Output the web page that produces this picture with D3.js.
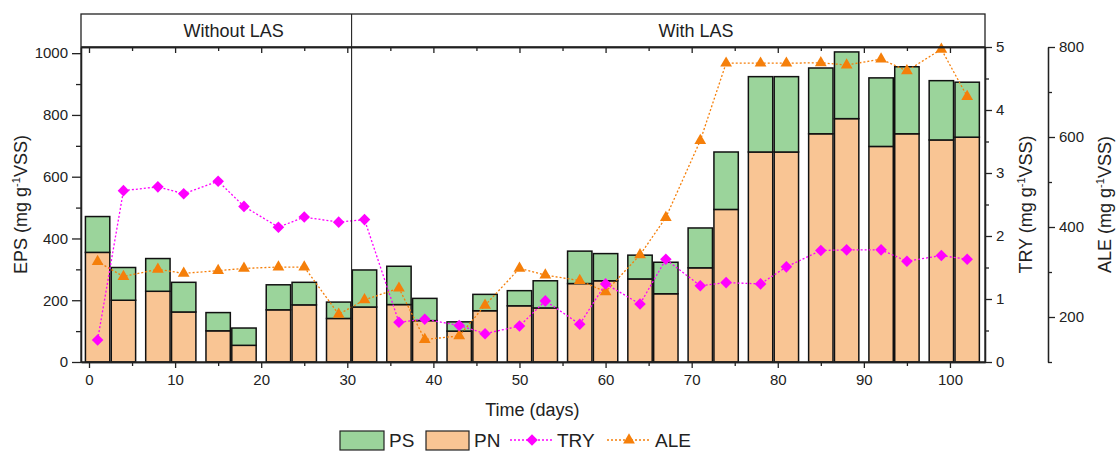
<!DOCTYPE html>
<html>
<head>
<meta charset="utf-8">
<script src="https://cdn.jsdelivr.net/npm/d3@7"></script>
<style>
  body { margin: 0; background: #fff; }
  text { font-family: "Liberation Sans", Arial, sans-serif; fill: #222; }
</style>
</head>
<body>
<div id="container" style="width:1118px;height:451px"></div>
<script>
// data
const days = [1, 4, 8, 11, 15, 18, 22, 25, 29, 32, 36, 39, 43, 46, 50, 53, 57, 60, 64, 67, 71, 74, 78, 81, 85, 88, 92, 95, 99, 102];
const pn = [355, 200, 229, 162, 101, 54, 169, 185, 141, 178, 186, 134, 100, 166, 182, 175, 254, 263, 269, 221, 305, 494, 680, 680, 739, 788, 698, 739, 719, 728];
const ps = [116, 106, 106, 96, 59, 56, 81, 73, 53, 120, 124, 72, 30, 53, 49, 88, 105, 88, 77, 102, 129, 186, 244, 244, 213, 216, 222, 217, 192, 178];
const tryVals = [0.35, 2.72, 2.78, 2.67, 2.87, 2.47, 2.14, 2.30, 2.22, 2.26, 0.63, 0.68, 0.58, 0.45, 0.57, 0.97, 0.60, 1.24, 0.92, 1.63, 1.21, 1.26, 1.24, 1.51, 1.77, 1.78, 1.78, 1.60, 1.69, 1.63];
const aleVals = [323, 290, 306, 297, 303, 308, 311, 311, 206, 238, 264, 150, 158, 226, 308, 293, 281, 256, 338, 421, 592, 764, 764, 764, 765, 760, 773, 747, 795, 690];
const phases = ["Without LAS", "With LAS"];
const legendLabels = ["PS", "PN", "TRY", "ALE"];

const colPS = "#9bd49b", colPN = "#f9c594", colTRY = "#ff00ff", colALE = "#f57f0a";

const width = 1118, height = 451;
const mLeft = 81, mRight = 985, mTop = 47, mBottom = 362, headTop = 14;

const svg = d3.select("#container").append("svg")
  .attr("width", width).attr("height", height);

const x = d3.scaleLinear().domain([-0.93, 104.07]).range([mLeft, mRight]);
const y = d3.scaleLinear().domain([0, 1020]).range([mBottom, mTop]);
const yTry = d3.scaleLinear().domain([0, 5]).range([mBottom, mTop]);
const yAle = d3.scaleLinear().domain([100, 800]).range([mBottom, mTop]);

const barW = x(2.83) - x(0);

// bars: PN bottom, PS on top
const bars = svg.append("g");
bars.selectAll(".pn").data(days).enter().append("rect")
  .attr("x", d => x(d) - barW / 2)
  .attr("y", (d, i) => y(pn[i]))
  .attr("width", barW)
  .attr("height", (d, i) => y(0) - y(pn[i]))
  .attr("fill", colPN).attr("stroke", "#111").attr("stroke-width", 1.5);
bars.selectAll(".ps").data(days).enter().append("rect")
  .attr("x", d => x(d) - barW / 2)
  .attr("y", (d, i) => y(pn[i] + ps[i]))
  .attr("width", barW)
  .attr("height", (d, i) => y(pn[i]) - y(pn[i] + ps[i]))
  .attr("fill", colPS).attr("stroke", "#111").attr("stroke-width", 1.5);

// ALE line
const aleLine = d3.line().x(d => x(d[0])).y(d => yAle(d[1]));
svg.append("path")
  .datum(days.map((d, i) => [d, aleVals[i]]))
  .attr("d", aleLine).attr("fill", "none")
  .attr("stroke", colALE).attr("stroke-width", 1.3).attr("stroke-dasharray", "2,2");
const tri = d3.symbol().type(d3.symbolTriangle).size(60);
svg.selectAll(".ale").data(days).enter().append("path")
  .attr("d", tri)
  .attr("transform", (d, i) => `translate(${x(d)},${yAle(aleVals[i])})`)
  .attr("fill", colALE);

// TRY line
const tryLine = d3.line().x(d => x(d[0])).y(d => yTry(d[1]));
svg.append("path")
  .datum(days.map((d, i) => [d, tryVals[i]]))
  .attr("d", tryLine).attr("fill", "none")
  .attr("stroke", colTRY).attr("stroke-width", 1.3).attr("stroke-dasharray", "2,2");
const dia = d3.symbol().type(d3.symbolDiamond2).size(85);
svg.selectAll(".try").data(days).enter().append("path")
  .attr("d", dia)
  .attr("transform", (d, i) => `translate(${x(d)},${yTry(tryVals[i])})`)
  .attr("fill", colTRY);

// axes
function styleAxis(g) {
  g.selectAll("path, line").attr("stroke", "#222").attr("stroke-width", 1.3);
  g.selectAll("text").style("font-size", "15px").attr("fill", "#222");
}
const fmt = d3.format("d");

// bottom
svg.append("g").attr("transform", `translate(0,${mBottom})`)
  .call(d3.axisBottom(x).tickValues(d3.range(5, 105, 10)).tickSize(4).tickFormat("").tickSizeOuter(0))
  .call(styleAxis);
svg.append("g").attr("transform", `translate(0,${mBottom})`)
  .call(d3.axisBottom(x).tickValues(d3.range(0, 101, 10)).tickSize(6).tickPadding(6).tickFormat(fmt).tickSizeOuter(0))
  .call(styleAxis);
// top (inward ticks)
svg.append("g").attr("transform", `translate(0,${mTop})`)
  .call(d3.axisBottom(x).tickValues(d3.range(5, 105, 10)).tickSize(4).tickFormat("").tickSizeOuter(0))
  .call(styleAxis);
svg.append("g").attr("transform", `translate(0,${mTop})`)
  .call(d3.axisBottom(x).tickValues(d3.range(0, 101, 10)).tickSize(6).tickFormat("").tickSizeOuter(0))
  .call(styleAxis);

// left
svg.append("g").attr("transform", `translate(${mLeft},0)`)
  .call(d3.axisLeft(y).tickValues(d3.range(100, 1001, 200)).tickSize(5).tickFormat("").tickSizeOuter(0))
  .call(styleAxis);
svg.append("g").attr("transform", `translate(${mLeft},0)`)
  .call(d3.axisLeft(y).tickValues(d3.range(0, 1001, 200)).tickSize(9).tickPadding(4).tickFormat(fmt).tickSizeOuter(0))
  .call(styleAxis);

// right TRY
svg.append("g").attr("transform", `translate(${mRight},0)`)
  .call(d3.axisRight(yTry).tickValues(d3.range(0.5, 5, 1)).tickSize(4).tickFormat("").tickSizeOuter(0))
  .call(styleAxis);
svg.append("g").attr("transform", `translate(${mRight},0)`)
  .call(d3.axisRight(yTry).tickValues(d3.range(0, 6, 1)).tickSize(7).tickPadding(4).tickFormat(fmt).tickSizeOuter(0))
  .call(styleAxis);

// offset ALE axis
const aleX = 1048;
svg.append("g").attr("transform", `translate(${aleX},0)`)
  .call(d3.axisRight(yAle).tickValues([100, 300, 500, 700]).tickSize(4).tickFormat("").tickSizeOuter(0))
  .call(styleAxis);
svg.append("g").attr("transform", `translate(${aleX},0)`)
  .call(d3.axisRight(yAle).tickValues([200, 400, 600, 800]).tickSize(7).tickPadding(4).tickFormat(fmt).tickSizeOuter(0))
  .call(styleAxis);

// header box and divider
const frame = svg.append("g").attr("fill", "none").attr("stroke", "#222").attr("stroke-width", 1.3);
frame.append("rect").attr("x", mLeft).attr("y", headTop).attr("width", mRight - mLeft).attr("height", mBottom - headTop);
frame.append("line").attr("x1", mLeft).attr("x2", mRight).attr("y1", mTop).attr("y2", mTop);
frame.append("line").attr("x1", x(30.5)).attr("x2", x(30.5)).attr("y1", headTop).attr("y2", mBottom)
  .attr("stroke-width", 1.1);

svg.append("text").attr("x", x(16.8)).attr("y", 37).attr("text-anchor", "middle")
  .style("font-size", "18px").text(phases[0]);
svg.append("text").attr("x", x(70.5)).attr("y", 37).attr("text-anchor", "middle")
  .style("font-size", "18px").text(phases[1]);

// axis titles
function unitTitle(tx, ty, name) {
  const t = svg.append("text")
    .attr("transform", `translate(${tx},${ty}) rotate(-90)`)
    .attr("text-anchor", "middle").style("font-size", "18px");
  t.append("tspan").text(name + " (mg g");
  t.append("tspan").attr("dy", -7).style("font-size", "11px").text("-1");
  t.append("tspan").attr("dy", 7).text("VSS)");
}
unitTitle(27, (mTop + mBottom) / 2, "EPS");
unitTitle(1032, (mTop + mBottom) / 2, "TRY");
unitTitle(1111, (mTop + mBottom) / 2, "ALE");

svg.append("text").attr("x", x(51.5)).attr("y", 416).attr("text-anchor", "middle")
  .style("font-size", "18px").text("Time (days)");

// legend
const lg = svg.append("g");
const ly = 440;
lg.append("rect").attr("x", 340).attr("y", 431).attr("width", 44).attr("height", 19)
  .attr("fill", colPS).attr("stroke", "#222").attr("stroke-width", 1.2);
lg.append("text").attr("x", 389).attr("y", ly + 7).style("font-size", "19px").text(legendLabels[0]);
lg.append("rect").attr("x", 426).attr("y", 431).attr("width", 43).attr("height", 19)
  .attr("fill", colPN).attr("stroke", "#222").attr("stroke-width", 1.2);
lg.append("text").attr("x", 474).attr("y", ly + 7).style("font-size", "19px").text(legendLabels[1]);
lg.append("line").attr("x1", 510).attr("x2", 554).attr("y1", ly).attr("y2", ly)
  .attr("stroke", colTRY).attr("stroke-width", 1.3).attr("stroke-dasharray", "2,2");
lg.append("path").attr("d", dia).attr("transform", `translate(532,${ly})`).attr("fill", colTRY);
lg.append("text").attr("x", 557).attr("y", ly + 7).style("font-size", "19px").text(legendLabels[2]);
lg.append("line").attr("x1", 607).attr("x2", 651).attr("y1", ly).attr("y2", ly)
  .attr("stroke", colALE).attr("stroke-width", 1.3).attr("stroke-dasharray", "2,2");
lg.append("path").attr("d", tri).attr("transform", `translate(629,${ly})`).attr("fill", colALE);
lg.append("text").attr("x", 655).attr("y", ly + 7).style("font-size", "19px").text(legendLabels[3]);
</script>
</body>
</html>
